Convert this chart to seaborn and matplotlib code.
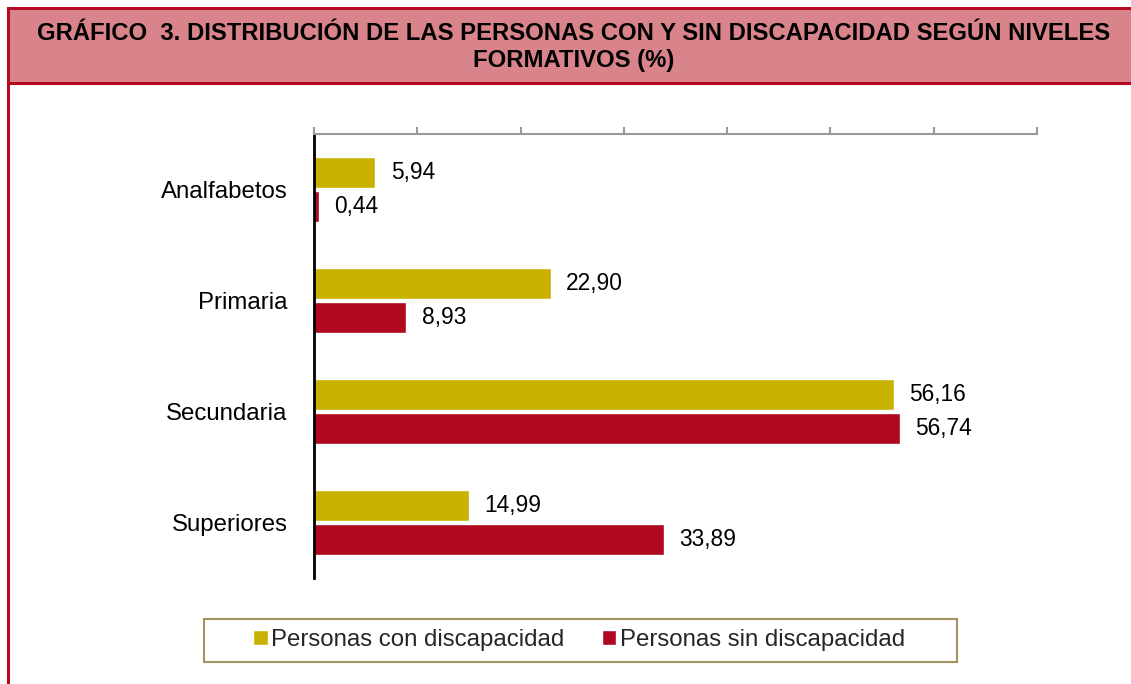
import matplotlib
matplotlib.use("Agg")
import matplotlib.pyplot as plt
from matplotlib.patches import Rectangle
from matplotlib.lines import Line2D
import pandas as pd
import seaborn as sns

niveles = ["Analfabetos", "Primaria", "Secundaria", "Superiores"]
con_disc = [5.94, 22.90, 56.16, 14.99]
sin_disc = [0.44, 8.93, 56.74, 33.89]
series = ["Personas con discapacidad", "Personas sin discapacidad"]

GOLD = "#c9b300"
RED = "#b0081e"
TITLE_BG = "#d9838a"
BORDER = "#b50a20"

df = pd.DataFrame({
    "nivel": niveles * 2,
    "valor": con_disc + sin_disc,
    "grupo": [series[0]] * len(niveles) + [series[1]] * len(niveles),
})

sns.set_style("white")
plt.rcParams["font.family"] = ["Liberation Sans", "DejaVu Sans"]

W, H = 1131, 684
fig = plt.figure(figsize=(W / 100, H / 100), dpi=100)
ax = fig.add_axes([314 / W, 1 - 578 / H, (1037 - 314) / W, (578 - 134) / H])

sns.barplot(data=df, x="valor", y="nivel", hue="grupo", orient="h",
            palette=[GOLD, RED], width=0.6, gap=0.067, saturation=1,
            legend=False, ax=ax)

ax.set_xlim(0, 70)
ax.set_xticks(range(0, 71, 10))
ax.xaxis.tick_top()
ax.tick_params(axis="x", which="both", direction="out", length=5, width=1.5,
               color="#9a9a9a", labeltop=False, labelbottom=False)
ax.tick_params(axis="y", length=0, pad=19, labelsize=17.3, labelcolor="black")
ax.set_xlabel("")
ax.set_ylabel("")
for s in ["bottom", "right"]:
    ax.spines[s].set_visible(False)
ax.spines["top"].set_color("#9a9a9a")
ax.spines["top"].set_linewidth(1.5)
ax.spines["left"].set_color("black")
ax.spines["left"].set_linewidth(2)

for cont in ax.containers:
    ax.bar_label(cont, fmt=lambda v: f"{v:.2f}".replace(".", ","),
                 padding=11, fontsize=16.4, color="black")

# title box and frame
fig.patches.append(Rectangle((8 / W, 1 - 83 / H), 1.2, 75 / H,
                             transform=fig.transFigure, facecolor=TITLE_BG,
                             edgecolor=BORDER, linewidth=2.2, zorder=0))
fig.add_artist(Line2D([8 / W, 8 / W], [0, 1 - 83 / H],
                      transform=fig.transFigure, color=BORDER, linewidth=2.2))
fig.text(574 / W, 1 - 33 / H,
         "GRÁFICO  3. DISTRIBUCIÓN DE LAS PERSONAS CON Y SIN DISCAPACIDAD SEGÚN NIVELES",
         ha="center", va="center", fontsize=17.2, fontweight="bold", color="black")
fig.text(574 / W, 1 - 60 / H, "FORMATIVOS (%)",
         ha="center", va="center", fontsize=17.2, fontweight="bold", color="black")

# legend box
fig.patches.append(Rectangle((204 / W, 1 - 662 / H), (957 - 204) / W, 43 / H,
                             transform=fig.transFigure, facecolor="white",
                             edgecolor="#a39360", linewidth=1.5, zorder=1))
handles = [Rectangle((0, 0), 1, 1, facecolor=GOLD), Rectangle((0, 0), 1, 1, facecolor=RED)]
leg = fig.legend(handles, series, loc="center", bbox_to_anchor=(579 / W, 1 - 640 / H),
                 ncol=2, fontsize=17.3, frameon=False,
                 handlelength=0.6, handleheight=0.6, handletextpad=0.15,
                 columnspacing=1.55, borderpad=0.3)
leg.set_zorder(2)

fig.savefig("out.png", dpi=100, facecolor="white")
